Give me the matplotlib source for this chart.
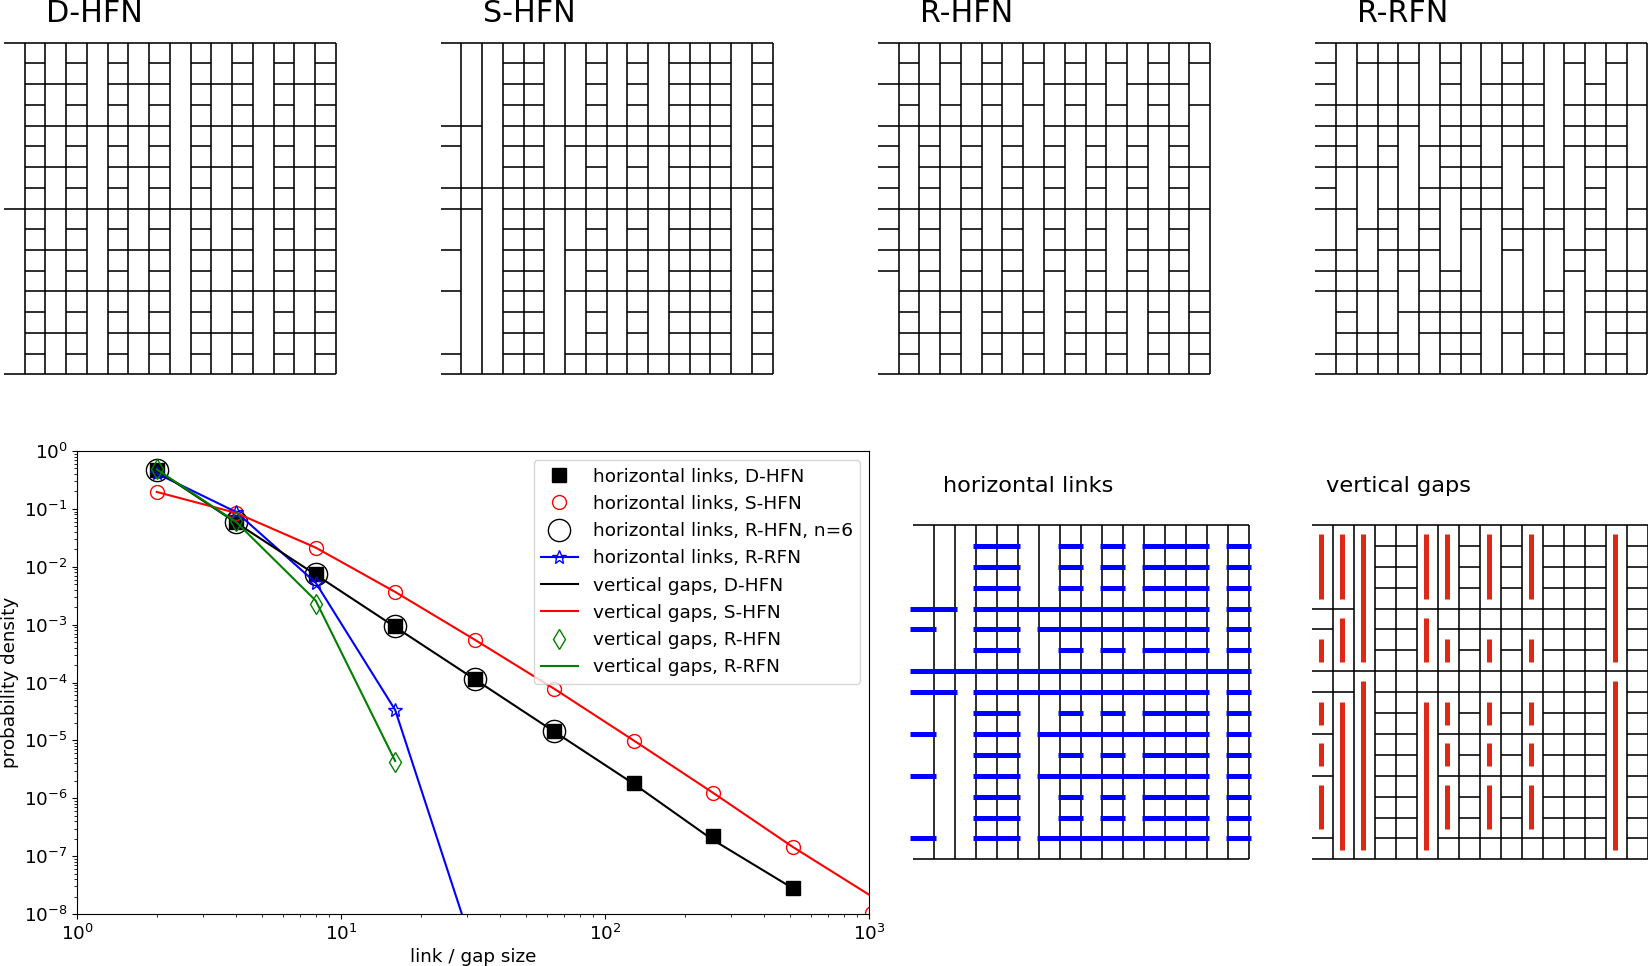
"""
Fractal network layouts and the link / gap size distributions.
"""
from typing import List, Tuple

import matplotlib.pyplot as plt

WIDTH = 1649
HEIGHT = 966
MATPLOTLIB_BLACK = 'k'
LINK_BLUE = '#0000ff'
GAP_RED = '#dc2814'

# one string per inner row (1..15), '#' marks a horizontal link in that column
D_HFN = [
    '.#.#.#.#.#.#.#.#',
    '.###.###.###.###',
    '.#.#.#.#.#.#.#.#',
    '.#######.#######',
    '.#.#.#.#.#.#.#.#',
    '.###.###.###.###',
    '.#.#.#.#.#.#.#.#',
    '################',
    '.#.#.#.#.#.#.#.#',
    '.###.###.###.###',
    '.#.#.#.#.#.#.#.#',
    '.#######.#######',
    '.#.#.#.#.#.#.#.#',
    '.###.###.###.###',
    '.#.#.#.#.#.#.#.#',
]
S_HFN = [
    '...##..#.#.###.#',
    '...##..#.#.###.#',
    '...##..#.#.###.#',
    '##.###########.#',
    '#..##.########.#',
    '...##..#.#.###.#',
    '################',
    '##.###########.#',
    '...##..#.#.###.#',
    '#..##.########.#',
    '...##..#.#.###.#',
    '#..##.########.#',
    '...##..#.#.###.#',
    '...##..#.#.###.#',
    '#..##.########.#',
]
R_HFN = [
    '.#.#.#.#.#.#.#.#',
    '###.###.###.###.',
    '.#.#.#.#.#.#.#.#',
    '#######.#######.',
    '#.#.#.#.#.#.#.#.',
    '#.###.###.###.##',
    '#.#.#.#.#.#.#.#.',
    '################',
    '#.#.#.#.#.#.#.#.',
    '###.###.###.###.',
    '#.#.#.#.#.#.#.#.',
    '.#######.#######',
    '.#.#.#.#.#.#.#.#',
    '.###.###.###.###',
    '.#.#.#.#.#.#.#.#',
]
R_RFN = [
    '#.###.#..#..#.#.',
    '#.....#.###..#..',
    '###########.####',
    '#####.#####.###.',
    '##.#.###.##.###.',
    '####..###.##.###',
    '#....####.#..#..',
    '##.###.###.###.#',
    '..##.#.#.###.###',
    '##.###...#..##..',
    '###.#.#.....#.##',
    '####.###...#.###',
    '.#..########.###',
    '.###.###.#.#..##',
    '#####.##..##.##.',
]

SIZES = [2, 4, 8, 16, 32, 64, 128, 256, 512, 1024]
LINKS_D_HFN = [0.47, 0.059, 7.45e-3, 9.3e-4, 1.16e-4, 1.44e-5, 1.8e-6, 2.24e-7, 2.8e-8]
LINKS_S_HFN = [0.196, 0.085, 0.0214, 3.67e-3, 5.5e-4, 7.76e-5, 9.8e-6, 1.24e-6, 1.41e-7, 1.05e-8]
LINKS_R_HFN = [0.47, 0.059, 7.45e-3, 9.3e-4, 1.16e-4, 1.44e-5]
LINKS_R_RFN = [0.41, 0.088, 5.3e-3, 3.35e-5, 2.1e-9]
GAPS_D_HFN = [0.47, 0.0575, 7.3e-3, 9.1e-4, 1.14e-4, 1.42e-5, 1.78e-6, 1.9e-7, 2.8e-8]
GAPS_S_HFN = [0.196, 0.085, 0.0214, 3.67e-3, 5.5e-4, 7.8e-5, 1e-5, 1.24e-6, 1.45e-7, 2e-8]
GAPS_R_HFN = [0.48, 0.0625, 2.3e-3, 4.3e-6]
GAPS_R_RFN = [0.48, 0.059, 2.6e-3, 4.4e-6]
X_TICKS = [1, 10, 100, 1000]
Y_TICKS = [1e-8, 1e-7, 1e-6, 1e-5, 1e-4, 1e-3, 1e-2, 1e-1, 1]


def add_axes(figure, left: float, top: float, right: float, bottom: float):
    """Add axes from a box in reference pixels."""
    return figure.add_axes([
        left / WIDTH,
        1 - bottom / HEIGHT,
        (right - left) / WIDTH,
        (bottom - top) / HEIGHT,
    ])


def runs(row: str) -> List[Tuple[int, int]]:
    """Return the (start, end) columns of every stretch of links in a row."""
    found = []
    start = None
    for column, cell in enumerate(row + '.'):
        if cell == '#' and start is None:
            start = column
        elif cell != '#' and start is not None:
            found.append((start, column))
            start = None
    return found


def gaps(network: List[str], column: int) -> List[Tuple[int, int]]:
    """Return the vertical gaps of a column that span more than one cell."""
    rows = [0] + [k + 1 for k, row in enumerate(network) if row[column] == '#'] + [16]
    return [(a, b) for a, b in zip(rows, rows[1:]) if b - a > 1]


def draw_network(ax, network: List[str]) -> None:
    ax.set_xlim(0, 16)
    ax.set_ylim(16, 0)
    ax.axis('off')
    line = dict(colors=MATPLOTLIB_BLACK, linewidth=1.15, clip_on=False, zorder=2)
    ax.hlines([0, 16], 0, 16, **line)
    ax.vlines(range(1, 17), 0, 16, **line)
    for k, row in enumerate(network):
        for start, end in runs(row):
            ax.hlines(k + 1, start, end, **line)


def draw_links(ax, network: List[str]) -> None:
    for k, row in enumerate(network):
        for start, end in runs(row):
            ax.hlines(
                k + 1, start - 0.11, end + 0.1,
                colors=LINK_BLUE, linewidth=3.6, clip_on=False, zorder=3,
            )


def draw_gaps(ax, network: List[str]) -> None:
    for column in range(16):
        for a, b in gaps(network, column):
            ax.vlines(
                column + 0.43, a + 0.45, b - 0.45,
                colors=GAP_RED, linewidth=3.6, clip_on=False, zorder=3,
            )


def draw_distribution(ax) -> None:
    ax.loglog(SIZES[:len(LINKS_D_HFN)], LINKS_D_HFN, 's', color='k', ms=10.5,
              label='horizontal links, D-HFN')
    ax.loglog(SIZES, LINKS_S_HFN, 'o', mfc='none', mec='r', ms=10,
              label='horizontal links, S-HFN')
    ax.loglog(SIZES[:len(LINKS_R_HFN)], LINKS_R_HFN, 'o', mfc='none', mec='k', ms=16,
              label='horizontal links, R-HFN, n=6')
    ax.loglog(SIZES[:len(LINKS_R_RFN)], LINKS_R_RFN, '*-', color='b', mfc='none', ms=10,
              label='horizontal links, R-RFN')
    ax.loglog(SIZES[:len(GAPS_D_HFN)], GAPS_D_HFN, '-', color='k',
              label='vertical gaps, D-HFN')
    ax.loglog(SIZES, GAPS_S_HFN, '-', color='r', label='vertical gaps, S-HFN')
    ax.loglog(SIZES[:len(GAPS_R_HFN)], GAPS_R_HFN, 'd', mfc='none', mec='g', ms=10,
              label='vertical gaps, R-HFN')
    ax.loglog(SIZES[:len(GAPS_R_RFN)], GAPS_R_RFN, '-', color='g',
              label='vertical gaps, R-RFN')
    ax.set_xticks(X_TICKS)
    ax.set_yticks(Y_TICKS)
    ax.set_xlim(1, 1000)
    ax.set_ylim(1e-8, 1)
    ax.tick_params(labelsize=13.2)
    ax.set_xlabel('link / gap size', fontsize=13.2, labelpad=3)
    ax.set_ylabel('probability density', fontsize=13.2, labelpad=3.5)
    ax.legend(loc='upper right', fontsize=13.3)


if __name__ == '__main__':
    figure = plt.figure(figsize=(WIDTH / 100, HEIGHT / 100), dpi=100)

    tops = [
        ('D-HFN', D_HFN, 4.0),
        ('S-HFN', S_HFN, 440.7),
        ('R-HFN', R_HFN, 878.0),
        ('R-RFN', R_RFN, 1315.3),
    ]
    for title, network, left in tops:
        ax = add_axes(figure, left, 42.7, left + 332, 374.3)
        draw_network(ax, network)
        ax.text(2.02, -0.98, title, fontsize=21.7, ha='left', va='baseline')

    ax = add_axes(figure, 77.3, 451, 869.3, 914)
    draw_distribution(ax)

    ax = add_axes(figure, 912.7, 525, 1249.3, 859.3)
    draw_network(ax, S_HFN)
    draw_links(ax, S_HFN)
    ax.text(1.44, -1.59, 'horizontal links', fontsize=16.2, ha='left', va='baseline')

    ax = add_axes(figure, 1312, 525, 1647.7, 859.3)
    draw_network(ax, S_HFN)
    draw_gaps(ax, S_HFN)
    ax.text(0.68, -1.59, 'vertical gaps', fontsize=16.2, ha='left', va='baseline')

    figure.savefig('out.png', dpi=100)
